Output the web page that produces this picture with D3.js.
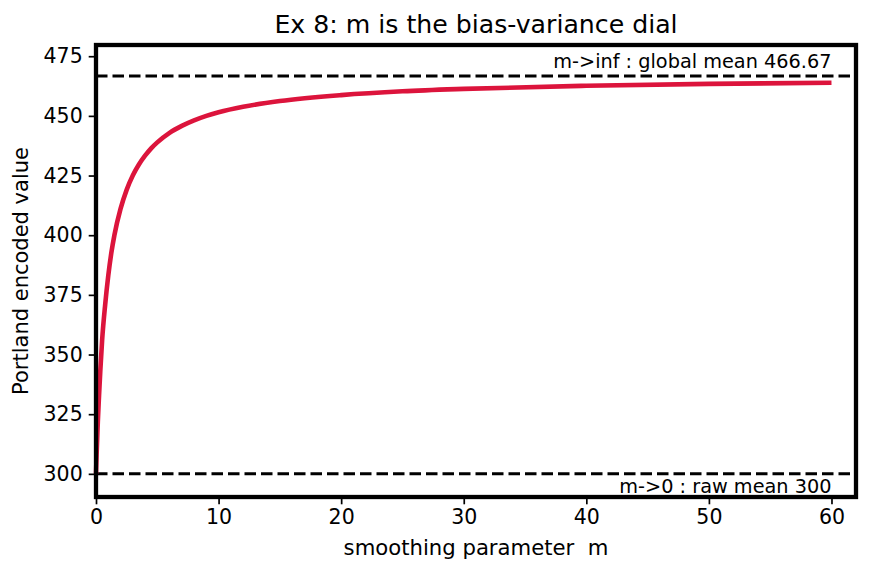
<!DOCTYPE html>
<html>
<head>
<meta charset="utf-8">
<script src="https://cdn.jsdelivr.net/npm/d3@7"></script>
<style>
  body { margin: 0; background: #fff; }
  text { font-family: "DejaVu Sans", sans-serif; fill: #000; }
</style>
</head>
<body>
<div id="chart"></div>
<script>
// smoothing parameter m and encoded value
const mValues = [0, 0.05, 0.1, 0.15, 0.25, 0.35, 0.5, 0.75, 1, 1.25, 1.5, 2, 2.5, 3, 3.5, 4, 4.5, 5, 6, 7, 8, 9, 10, 12, 15, 20, 25, 30, 40, 50, 60];
const encodedValues = [300, 308, 315, 322, 333, 343, 356, 371, 383, 392.6, 400, 411, 419, 425, 429.6, 433.3, 436.4, 438.9, 442.9, 445.8, 448.1, 450, 451.5, 453.8, 456.2, 458.7, 460.3, 461.3, 462.6, 463.4, 463.9];
const globalMean = 466.67;
const rawMean = 300;
const xTicks = [0, 10, 20, 30, 40, 50, 60];
const yTicks = [300, 325, 350, 375, 400, 425, 450, 475];

let width = 869, height = 573;
let margin = {left: 96, right: 13, top: 45, bottom: 76};

let svg = d3.select("#chart").append("svg")
  .attr("width", width)
  .attr("height", height);

let x = d3.scaleLinear().domain([0, 62]).range([margin.left, width - margin.right]);
let y = d3.scaleLinear().domain([290.3, 479.7]).range([height - margin.bottom, margin.top]);

// dashed reference lines
[globalMean, rawMean].forEach(v => {
  svg.append("line")
    .attr("x1", x(0)).attr("x2", x(62))
    .attr("y1", y(v)).attr("y2", y(v))
    .attr("stroke", "#000")
    .attr("stroke-width", 3)
    .attr("stroke-dasharray", "11.5,5");
});

let data = mValues.map((m, i) => ({m: m, v: encodedValues[i]}));

let line = d3.line()
  .x(d => x(d.m))
  .y(d => y(d.v))
  .curve(d3.curveMonotoneX);

svg.append("path")
  .datum(data)
  .attr("fill", "none")
  .attr("stroke", "crimson")
  .attr("stroke-width", 4.6)
  .attr("stroke-linecap", "butt")
  .attr("d", line);

// axes
let xAxis = svg.append("g")
  .attr("transform", "translate(0," + (height - margin.bottom) + ")")
  .call(d3.axisBottom(x).tickValues(xTicks).tickSize(7.3).tickPadding(5));
let yAxis = svg.append("g")
  .attr("transform", "translate(" + margin.left + ",0)")
  .call(d3.axisLeft(y).tickValues(yTicks).tickSize(7.3).tickPadding(6));

[xAxis, yAxis].forEach(a => {
  a.select(".domain").remove();
  a.selectAll("line").attr("stroke", "#000").attr("stroke-width", 1.7);
  a.selectAll("text")
    .style("font-size", "20.5px")
    .style("font-family", "DejaVu Sans");
});

// frame
svg.append("rect")
  .attr("x", margin.left)
  .attr("y", margin.top)
  .attr("width", width - margin.left - margin.right)
  .attr("height", height - margin.top - margin.bottom)
  .attr("fill", "none")
  .attr("stroke", "#000")
  .attr("stroke-width", 4.3);

// annotations
svg.append("text")
  .attr("x", x(60)).attr("y", y(globalMean) - 8)
  .attr("text-anchor", "end")
  .style("font-size", "19.3px")
  .text("m->inf : global mean 466.67");

svg.append("text")
  .attr("x", x(60)).attr("y", y(rawMean) + 19)
  .attr("text-anchor", "end")
  .style("font-size", "19.3px")
  .text("m->0 : raw mean 300");

// titles
svg.append("text")
  .attr("x", (margin.left + width - margin.right) / 2)
  .attr("y", 33)
  .attr("text-anchor", "middle")
  .style("font-size", "25.2px")
  .text("Ex 8: m is the bias-variance dial");

svg.append("text")
  .attr("x", (margin.left + width - margin.right) / 2)
  .attr("y", 555)
  .attr("text-anchor", "middle")
  .style("font-size", "21.2px")
  .style("white-space", "pre")
  .text("smoothing parameter  m");

svg.append("text")
  .attr("transform", "translate(28," + ((margin.top + height - margin.bottom) / 2) + ") rotate(-90)")
  .attr("text-anchor", "middle")
  .style("font-size", "21px")
  .text("Portland encoded value");
</script>
</body>
</html>
